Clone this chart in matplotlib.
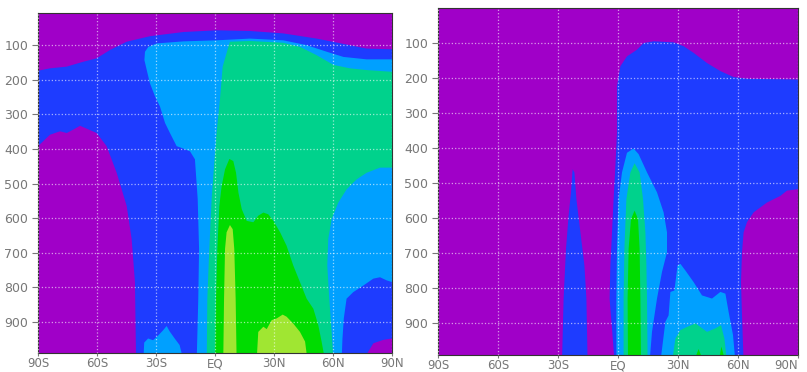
import matplotlib
matplotlib.use('Agg')
import matplotlib.pyplot as plt

# GrADS style shades, lowest to highest
PURPLE = '#a000c8'
BLUE = '#1e3cff'
LBLUE = '#00a0ff'
TEAL = '#00d28c'
GREEN = '#00dc00'
YGREEN = '#a0e632'

lat_ticks = [-90, -60, -30, 0, 30, 60, 90]
lat_labels = ['90S', '60S', '30S', 'EQ', '30N', '60N', '90N']
lev_ticks = [100, 200, 300, 400, 500, 600, 700, 800, 900]

# ---- left panel: shade boundaries (lat, hPa) ----
L_blue_lat = [-90, -83.9, -75.4, -67, -60.2, -53.4, -44.9, -33, -16.1, 0.8, 17.8, 34.7, 51.7, 68.6, 77, 90, 90, -90]
L_blue_p = [174, 167, 162, 148, 138, 114, 90, 74, 62, 57, 59, 66, 81, 100, 110, 112, 1010, 1010]

L_purp1_lat = [-90, -90, -83.9, -78.8, -75.4, -72, -68.6, -60.2, -55.1, -50, -44.9, -42.4, -40.7, -40.2, -40.2]
L_purp1_p = [1010, 392, 359, 349, 354, 344, 333, 354, 392, 469, 565, 660, 785, 986, 1010]

L_lblue_lat = [-9.3, -8.5, -8.1, -8.8, -10.2, -12.7, -17.0, -19.5, -22.9, -25.4, -28.0, -30.5, -33.1, -34.7,
               -35.9, -35.6, -33.9, -29.7, -16.1, 0.8, 17.8, 34.7, 46.6, 56.8, 65.3, 77.1, 90, 90]
L_lblue_p = [1010, 833, 689, 545, 430, 407, 397, 392, 354, 325, 277, 248, 210, 172,
             143, 119, 105, 95, 89, 86, 81, 86, 100, 119, 134, 141, 141, 1010]

L_bump_lat = [-36.4, -36.0, -34, -31.5, -29, -26.5, -24.6, -23, -20.5, -18, -16.1]
L_bump_p = [1010, 960, 948, 953, 940, 925, 912, 928, 948, 967, 1010]

L_teal_lat = [-4.2, -3.9, -2.9, -1.7, -0.5, 0.8, 2.5, 3.9, 6.8, 7.6, 17.8, 34.7, 43.2, 51.7, 60.2, 68.6, 77.1, 90,
              90, 83.9, 77.1, 72.0, 66.9, 62.7, 59.3, 57.6, 57.1, 58.1, 59.3, 60.2]
L_teal_p = [1010, 833, 689, 545, 450, 354, 258, 162, 105, 90, 88, 93, 105, 129, 157, 167, 172, 177,
            454, 454, 469, 488, 517, 555, 603, 660, 737, 833, 929, 1010]

L_green_lat = [0.0, 0.5, 1.2, 2.2, 3.4, 5.1, 7.3, 9.3, 10.7, 11.9, 13.6, 16.1, 19.5, 22.0, 24.6, 27.1, 29.7,
               33.1, 36.4, 39.8, 43.2, 46.6, 50.0, 52.5, 54.2, 55.9]
L_green_p = [1010, 833, 689, 565, 507, 459, 429, 435, 469, 526, 574, 608, 612, 593, 584, 589, 608,
             641, 680, 737, 785, 833, 862, 909, 957, 1010]

L_yg1_lat = [4.2, 4.6, 5.1, 5.9, 7.6, 9.0, 9.8, 10.5, 11.0]
L_yg1_p = [1010, 833, 689, 641, 620, 632, 689, 833, 1010]

L_yg2_lat = [21.2, 22.0, 24.6, 26.3, 28.8, 31.4, 34.4, 36.4, 39.8, 43.2, 45.8, 47.0]
L_yg2_p = [1010, 929, 914, 921, 895, 890, 879, 885, 905, 929, 957, 1010]

L_blue2_lat = [64.4, 64.8, 65.5, 66.9, 70.3, 75.4, 80.5, 83.9, 87.3, 90, 90]
L_blue2_p = [1010, 950, 890, 833, 814, 795, 775, 771, 780, 785, 1010]

L_purp2_lat = [75.4, 80.5, 85.6, 90, 90]
L_purp2_p = [1010, 962, 952, 948, 1010]

# ---- right panel ----
R_blue_lat = [-1.7, -4.2, -3.8, -3.0, -2.2, -1.3, -0.5, -0.5, 1.2, 4.5, 9.5, 12.8, 17.8, 27.8, 32.8, 37.8,
              44.5, 51.2, 57.8, 64.5, 90, 90, 84.5, 81.2, 74.5, 67.8, 64.5, 62.8, 62.0, 61.5, 62.0, 62.8]
R_blue_p = [1010, 829, 734, 640, 545, 450, 356, 223, 166, 138, 119, 100, 95, 98, 109, 128,
            157, 180, 197, 202, 204, 517, 521, 536, 555, 583, 611, 640, 697, 782, 877, 1010]

R_spike_lat = [-28.0, -27.2, -26.0, -24.7, -23.5, -22.7, -21.8, -20.8, -18.8, -16.8, -15.8, -15.2]
R_spike_p = [1010, 829, 687, 592, 526, 460, 469, 545, 640, 734, 829, 1010]

R_lblue1_lat = [-0.8, -0.8, -0.5, 0.3, 2.0, 4.5, 7.8, 10.3, 14.5, 19.5, 22.8, 24.5, 24.5, 22.0, 19.5, 17.0, 15.8]
R_lblue1_p = [1010, 829, 687, 545, 469, 413, 401, 417, 469, 526, 583, 640, 697, 753, 829, 924, 1010]

R_teal1_lat = [2.8, 2.8, 3.2, 4.2, 6.2, 8.3, 10.8, 12.5, 13.7, 14.2, 14.5, 14.8]
R_teal1_p = [1010, 829, 687, 545, 469, 443, 469, 545, 640, 734, 829, 1010]

R_green1_lat = [5.0, 4.8, 5.3, 6.5, 8.3, 10.0, 10.8, 11.2, 11.5]
R_green1_p = [1010, 829, 687, 602, 578, 602, 687, 829, 1010]

R_lblue2_lat = [21.2, 23.7, 25.3, 26.2, 28.2, 29.8, 31.2, 33.7, 37.8, 42.0, 47.0, 51.2, 53.7, 55.3, 57.5, 58.7]
R_lblue2_p = [1010, 895, 877, 810, 806, 734, 730, 749, 782, 820, 829, 810, 815, 867, 933, 1010]

R_teal2_lat = [27.0, 28.7, 31.2, 34.5, 38.7, 41.2, 44.5, 48.7, 51.5, 53.2, 54.5]
R_teal2_p = [1010, 943, 919, 910, 900, 910, 924, 914, 905, 943, 1010]

R_green2_lat = [37.8, 40.3, 42.8]
R_green2_p = [1010, 973, 1010]
R_green3_lat = [50.3, 51.7, 53.7]
R_green3_p = [1010, 966, 1010]


def style_axes(ax, top):
	ax.set_facecolor(PURPLE)
	ax.set_xlim(-90, 90)
	ax.set_ylim(990, top)
	ax.set_xticks(lat_ticks)
	ax.set_xticklabels(lat_labels)
	ax.set_yticks(lev_ticks)
	ax.grid(True, color='white', linestyle=':', linewidth=0.9, alpha=0.6)
	ax.set_axisbelow(False)
	ax.tick_params(axis='y', colors='#777777', labelsize=9, length=4, width=0.8, pad=3)
	ax.tick_params(axis='x', colors='#777777', labelsize=8.5, length=2, width=0.8, pad=1)
	for s in ax.spines.values():
		s.set_color('#333333')
		s.set_linewidth(0.8)


def shade(ax, lat, p, color):
	ax.fill(lat, p, color=color, lw=0, zorder=1)


fig = plt.figure(figsize=(8.07, 3.72), dpi=100)

ax1 = fig.add_axes([38/807, 19/372, 354/807, 340/372])
style_axes(ax1, 7)
shade(ax1, L_blue_lat, L_blue_p, BLUE)
shade(ax1, L_purp1_lat, L_purp1_p, PURPLE)
shade(ax1, L_lblue_lat, L_lblue_p, LBLUE)
shade(ax1, L_bump_lat, L_bump_p, LBLUE)
shade(ax1, L_teal_lat, L_teal_p, TEAL)
shade(ax1, L_green_lat, L_green_p, GREEN)
shade(ax1, L_yg1_lat, L_yg1_p, YGREEN)
shade(ax1, L_yg2_lat, L_yg2_p, YGREEN)
shade(ax1, L_blue2_lat, L_blue2_p, BLUE)
shade(ax1, L_purp2_lat, L_purp2_p, PURPLE)

ax2 = fig.add_axes([438/807, 17/372, 360/807, 347/372])
style_axes(ax2, 0)
shade(ax2, R_blue_lat, R_blue_p, BLUE)
shade(ax2, R_spike_lat, R_spike_p, BLUE)
shade(ax2, R_lblue1_lat, R_lblue1_p, LBLUE)
shade(ax2, R_teal1_lat, R_teal1_p, TEAL)
shade(ax2, R_green1_lat, R_green1_p, GREEN)
shade(ax2, R_lblue2_lat, R_lblue2_p, LBLUE)
shade(ax2, R_teal2_lat, R_teal2_p, TEAL)
shade(ax2, R_green2_lat, R_green2_p, GREEN)
shade(ax2, R_green3_lat, R_green3_p, GREEN)
# keep the last label inside the canvas
ax2.get_xticklabels()[-1].set_horizontalalignment('right')

fig.savefig('out.png', dpi=100)
